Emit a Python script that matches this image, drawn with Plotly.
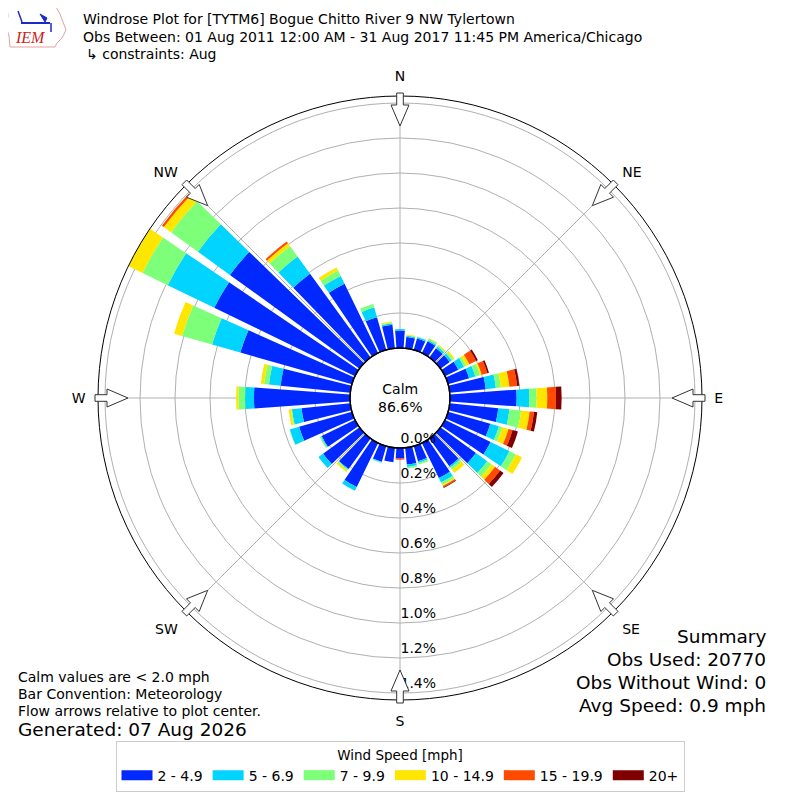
import math
import plotly.graph_objects as go

# ---------------- data ----------------
directions = [0, 10, 20, 30, 40, 50, 60, 70, 80, 90, 100, 110, 120, 130, 140, 150, 160, 170,
              180, 190, 200, 210, 220, 230, 240, 250, 260, 270, 280, 290, 300, 310, 320, 330, 340, 350]
speed_bins = ["2 - 4.9", "5 - 6.9", "7 - 9.9", "10 - 14.9", "15 - 19.9", "20+"]
bin_colors = ["#0028ff", "#00d4ff", "#7dff7a", "#ffe600", "#ff4a00", "#800000"]

spd_2_5 = [0.100, 0.065, 0.068, 0.075, 0.065, 0.065, 0.085, 0.125, 0.207, 0.381, 0.279, 0.251,
           0.290, 0.250, 0.195, 0.223, 0.090, 0.097, 0.060, 0.083, 0.093, 0.280, 0.215, 0.257,
           0.212, 0.314, 0.280, 0.549, 0.400, 0.663, 0.894, 0.914, 0.591, 0.440, 0.194, 0.135]
spd_5_7 = [0.008, 0.007, 0.009, 0.008, 0.012, 0.015, 0.036, 0.037, 0.058, 0.072, 0.064, 0.051,
           0.120, 0.080, 0.010, 0.028, 0.010, 0.013, 0.000, 0.000, 0.004, 0.024, 0.005, 0.033,
           0.005, 0.055, 0.055, 0.051, 0.067, 0.168, 0.296, 0.226, 0.122, 0.050, 0.059, 0.008]
spd_7_10 = [0.000, 0.003, 0.003, 0.010, 0.008, 0.010, 0.014, 0.028, 0.029, 0.042, 0.067, 0.020,
            0.040, 0.030, 0.015, 0.015, 0.010, 0.010, 0.000, 0.000, 0.004, 0.000, 0.006, 0.000,
            0.008, 0.003, 0.005, 0.038, 0.028, 0.178, 0.160, 0.190, 0.072, 0.034, 0.020, 0.005]
spd_10_15 = [0.000, 0.005, 0.000, 0.002, 0.005, 0.010, 0.020, 0.010, 0.049, 0.061, 0.049, 0.037,
             0.040, 0.025, 0.023, 0.008, 0.000, 0.000, 0.000, 0.000, 0.000, 0.000, 0.010, 0.000,
             0.000, 0.000, 0.014, 0.013, 0.019, 0.048, 0.090, 0.050, 0.021, 0.019, 0.000, 0.006]
spd_15_20 = [0.000, 0.000, 0.000, 0.000, 0.000, 0.000, 0.043, 0.033, 0.044, 0.050, 0.025, 0.024,
             0.000, 0.035, 0.000, 0.008, 0.000, 0.000, 0.007, 0.000, 0.000, 0.000, 0.000, 0.000,
             0.000, 0.000, 0.000, 0.000, 0.000, 0.000, 0.005, 0.014, 0.012, 0.000, 0.000, 0.000]
spd_20p = [0.000, 0.000, 0.000, 0.000, 0.000, 0.000, 0.011, 0.010, 0.013, 0.032, 0.019, 0.032,
           0.000, 0.025, 0.000, 0.004, 0.000, 0.000, 0.000, 0.000, 0.000, 0.000, 0.000, 0.000,
           0.000, 0.000, 0.000, 0.000, 0.000, 0.000, 0.000, 0.000, 0.000, 0.000, 0.000, 0.000]
series = [spd_2_5, spd_5_7, spd_7_10, spd_10_15, spd_15_20, spd_20p]

radial_ticks = [0.0, 0.2, 0.4, 0.6, 0.8, 1.0, 1.2, 1.4]
radial_labels = ["0.0%", "0.2%", "0.4%", "0.6%", "0.8%", "1.0%", "1.2%", "1.4%"]
compass_vals = [0, 45, 90, 135, 180, 225, 270, 315]
compass_labels = ["N", "NE", "E", "SE", "S", "SW", "W", "NW"]

calm_pct = "86.6%"
title_lines = ["Windrose Plot for [TYTM6] Bogue Chitto River 9 NW Tylertown",
               "Obs Between: 01 Aug 2011 12:00 AM - 31 Aug 2017 11:45 PM America/Chicago",
               "↳ constraints: Aug"]
notes = ["Calm values are < 2.0 mph", "Bar Convention: Meteorology",
         "Flow arrows relative to plot center."]
generated = "Generated: 07 Aug 2026"
summary = ["Summary", "Obs Used: 20770", "Obs Without Wind: 0", "Avg Speed: 0.9 mph"]

# ---------------- layout constants ----------------
OFF = 8                # browser body margin
W = H = 784
CX, CY = 400, 398      # polar centre (screen px)
R_OUT = 302            # outer circle radius (px)
R_HOLE = 50            # calm circle radius (px)
FONT = "DejaVu Sans"


def px(x):
    return (x - OFF) / W


def py(y):
    return 1 - (y - OFF) / H


fig = go.Figure()

for name, vals, col in zip(speed_bins, series, bin_colors):
    fig.add_trace(go.Barpolar(
        r=vals, theta=directions, width=8.2, name=name,
        marker=dict(color=col, line=dict(width=0)),
        showlegend=False, hoverinfo="skip"))

# legend proxies (wide flat swatches)
for name, col in zip(speed_bins, bin_colors):
    fig.add_trace(go.Scatterpolar(
        r=[None], theta=[None], mode="lines", name=name,
        line=dict(color=col, width=10), showlegend=True))

fig.update_layout(
    width=W, height=H,
    margin=dict(l=0, r=0, t=0, b=0),
    paper_bgcolor="white",
    font=dict(family=FONT, color="black", size=14),
    polar=dict(
        domain=dict(x=[px(CX - R_OUT), px(CX + R_OUT)],
                    y=[py(CY + R_OUT), py(CY - R_OUT)]),
        hole=R_HOLE / R_OUT,
        bgcolor="white",
        barmode="stack",
        angularaxis=dict(
            direction="clockwise", rotation=90,
            tickmode="array", tickvals=compass_vals, ticktext=compass_labels,
            showgrid=True, gridcolor="#b0b0b0", gridwidth=1,
            showline=True, linecolor="black", linewidth=1,
            ticks="outside", ticklen=9, tickcolor="rgba(0,0,0,0)",
            tickfont=dict(size=14, family=FONT, color="black")),
        radialaxis=dict(
            range=[0, 1.44], tickmode="array", tickvals=radial_ticks,
            ticktext=[t + "<br>&#160;" for t in radial_labels],
            showline=False, showgrid=True, gridcolor="#b0b0b0", gridwidth=1,
            angle=-90, side="counterclockwise", tickangle=-90, ticks="",
            layer="above traces",
            tickfont=dict(size=14, family=FONT, color="black")),
    ),
    legend=dict(
        orientation="h", x=px(400), xanchor="center",
        y=py(741), yanchor="top",
        bgcolor="white", bordercolor="#cccccc", borderwidth=1,
        font=dict(size=14, family=FONT, color="black"),
        title=dict(text="Wind Speed [mph]", side="top center",
                   font=dict(size=13.5, family=FONT, color="black")),
        itemwidth=31, tracegroupgap=0),
)

shapes = []
# calm circle edge
shapes.append(dict(type="circle", xref="paper", yref="paper",
                   x0=px(CX - R_HOLE), x1=px(CX + R_HOLE),
                   y0=py(CY + R_HOLE), y1=py(CY - R_HOLE),
                   line=dict(color="black", width=1.5), fillcolor="rgba(0,0,0,0)"))

# flow arrows
for b in compass_vals:
    a = math.radians(b)
    ux, uy = math.sin(a), -math.cos(a)
    pxv, pyv = math.cos(a), math.sin(a)

    def pt(r, s):
        return (CX + r * ux + s * pxv, CY + r * uy + s * pyv)
    pts = [pt(305, -3.3), pt(305, 3.3), pt(293, 3.3), pt(293, 9), pt(272, 0),
           pt(293, -9), pt(293, -3.3)]
    path = "M " + " L ".join(f"{px(x):.5f},{py(y):.5f}" for x, y in pts) + " Z"
    shapes.append(dict(type="path", xref="paper", yref="paper", path=path,
                       fillcolor="white", line=dict(color="#333333", width=1), layer="above"))

# IEM logo (simplified)
logo_pts = [(7, 7), (56, 7), (60, 14), (63, 22), (66, 30), (62, 38), (57, 43), (55, 47),
            (10, 47), (9, 36), (6, 26), (8, 16)]
shapes.append(dict(type="path", xref="paper", yref="paper",
                   path="M " + " L ".join(f"{px(x):.5f},{py(y):.5f}" for x, y in logo_pts) + " Z",
                   line=dict(color="#e8a0a0", width=1), fillcolor="white"))
shapes.append(dict(type="line", xref="paper", yref="paper", x0=px(21), x1=px(50), y0=py(23), y1=py(23),
                   line=dict(color="#1a2acc", width=2)))
shapes.append(dict(type="line", xref="paper", yref="paper", x0=px(18), x1=px(22), y0=py(11), y1=py(22),
                   line=dict(color="#1a2acc", width=1.5)))
shapes.append(dict(type="path", xref="paper", yref="paper",
                   path=f"M {px(40)},{py(14)} L {px(47)},{py(18)} L {px(45)},{py(22)} Z",
                   line=dict(color="#1a2acc", width=1), fillcolor="#1a2acc"))
shapes.append(dict(type="line", xref="paper", yref="paper", x0=px(51), x1=px(51), y0=py(23), y1=py(32),
                   line=dict(color="#1a2acc", width=1.5)))
fig.update_layout(shapes=shapes)

ann = []
ann.append(dict(x=px(30), y=py(37), xref="paper", yref="paper", text="<i>IEM</i>", showarrow=False,
                font=dict(family="Liberation Serif", size=16, color="#cc2222"),
                xanchor="center", yanchor="middle"))
for i, t in enumerate(title_lines):
    ann.append(dict(x=px(81 if i < 2 else 84), y=py([19, 37, 54][i]), xref="paper", yref="paper",
                    text=t, showarrow=False, xanchor="left", yanchor="middle",
                    font=dict(size=14, family=FONT, color="black")))
ann.append(dict(x=px(CX), y=py(CY), xref="paper", yref="paper", text="Calm<br>" + calm_pct,
                showarrow=False, xanchor="center", yanchor="middle",
                font=dict(size=14, family=FONT, color="black")))
for i, t in enumerate(notes):
    ann.append(dict(x=px(16), y=py([677, 694, 711][i]), xref="paper", yref="paper", text=t,
                    showarrow=False, xanchor="left", yanchor="middle",
                    font=dict(size=14, family=FONT, color="black")))
ann.append(dict(x=px(16), y=py(729), xref="paper", yref="paper", text=generated, showarrow=False,
                xanchor="left", yanchor="middle", font=dict(size=18.5, family=FONT, color="black")))
for i, t in enumerate(summary):
    ann.append(dict(x=px(768), y=py([636, 659, 682, 705][i]), xref="paper", yref="paper", text=t,
                    showarrow=False, xanchor="right", yanchor="middle",
                    font=dict(size=18.5, family=FONT, color="black")))
fig.update_layout(annotations=ann)

fig.write_html("out.html")
